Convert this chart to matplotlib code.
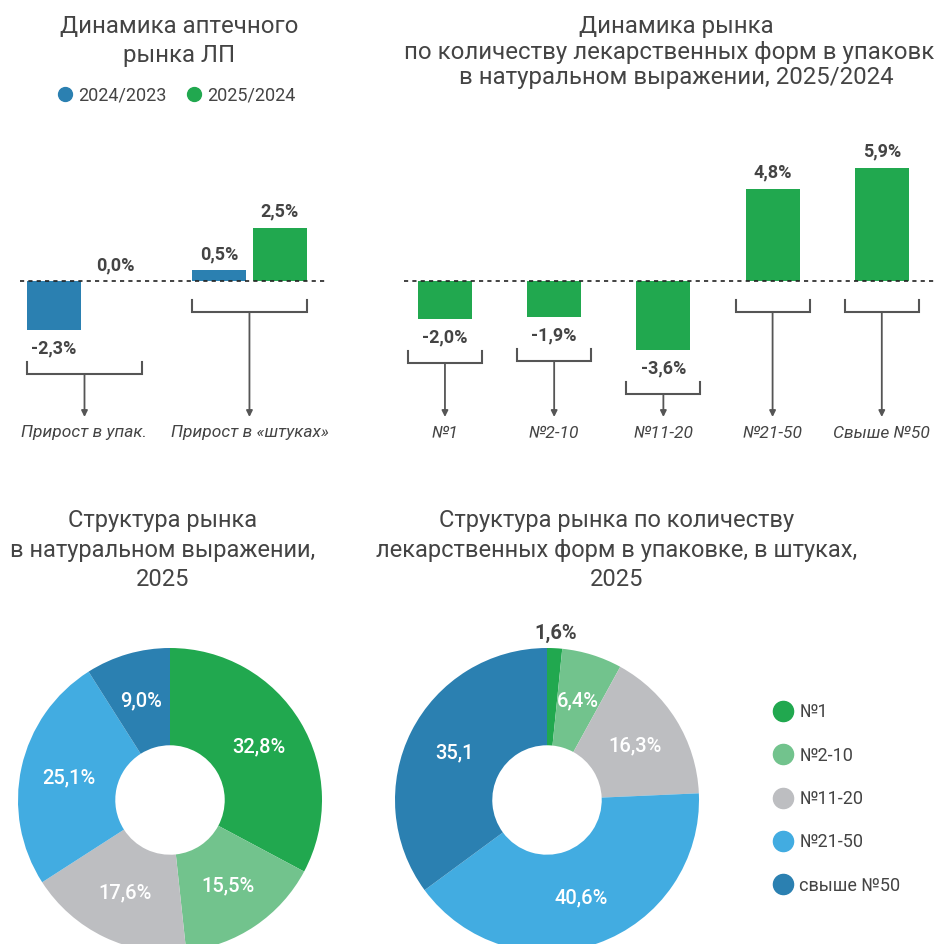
import numpy as np
import matplotlib
matplotlib.use('Agg')
import matplotlib.pyplot as plt
from matplotlib.lines import Line2D

plt.rcParams['font.family'] = ['Roboto', 'DejaVu Sans']

# ---- data
growth_cats = ['Прирост в упак.', 'Прирост в «штуках»']
series_names = ['2024/2023', '2025/2024']
growth_2024 = [-2.3, 0.5]
growth_2025 = [0.0, 2.5]

pack_cats = ['№1', '№2-10', '№11-20', '№21-50', 'Свыше №50']
pack_growth = [-2.0, -1.9, -3.6, 4.8, 5.9]

legend_names = ['№1', '№2-10', '№11-20', '№21-50', 'свыше №50']
struct_vals = [32.8, 15.5, 17.6, 25.1, 9.0]
struct_labels = ['32,8%', '15,5%', '17,6%', '25,1%', '9,0%']
pieces_vals = [1.6, 6.4, 16.3, 40.6, 35.1]
pieces_labels = ['1,6%', '6,4%', '16,3%', '40,6%', '35,1']

# ---- styles
BLUE = '#2b80b1'
GREEN = '#21a84f'
pie_colors = ['#21a84f', '#72c38d', '#bdbec1', '#42ace1', '#2b80b1']
TXT = '#444444'
LINE = '#555555'

W, H = 934, 944
fig = plt.figure(figsize=(W / 100, H / 100), dpi=100)


def px_axes(x0, y0, x1, y1):
    # pixel box with top-left origin -> figure axes
    ax = fig.add_axes([x0 / W, 1 - y1 / H, (x1 - x0) / W, (y1 - y0) / H])
    ax.axis('off')
    return ax


def fmt(v):
    return ('%.1f%%' % v).replace('.', ',')


ZERO = 281      # pixel row of the zero line
ARROW_END = 417
CAT_Y = 433


def value_labels(ax, xs, vals, K):
    for x, v in zip(xs, vals):
        if v >= 0:
            ax.text(x, v + 16 / K, fmt(v), ha='center', va='center',
                    fontsize=13, fontweight='bold', color=TXT)
        else:
            ax.text(x, v - 18 / K, fmt(v), ha='center', va='center',
                    fontsize=13, fontweight='bold', color=TXT)


def bracket(ax, x0, x1, vmin, K, label):
    if vmin < 0:
        top = vmin - 18 / K - 14 / K
    else:
        top = -19 / K
    bot = top - 12 / K
    ax.plot([x0, x0, x1, x1], [top, bot, bot, top], color=LINE, lw=1.5,
            solid_joinstyle='miter')
    xm = (x0 + x1) / 2
    yend = (ZERO - ARROW_END) / K
    ax.annotate('', xy=(xm, yend), xytext=(xm, bot),
                arrowprops=dict(arrowstyle='-|>', color=LINE, lw=1.3,
                                mutation_scale=9, shrinkA=0, shrinkB=0))
    ax.text(xm, (ZERO - CAT_Y) / K, label, ha='center', va='center',
            fontsize=12.5, fontstyle='italic', color=TXT)


# ---- top-left: growth of the pharmacy market
K1 = 21.3
ax1 = px_axes(20, 110, 325, 450)
ax1.set_xlim(-0.391, 1.458)
ax1.set_ylim(-(450 - ZERO) / K1, (ZERO - 110) / K1)
x = np.arange(len(growth_cats))
off, w = 0.185, 0.327
ax1.bar(x - off, growth_2024, w, color=BLUE, linewidth=0)
ax1.bar(x + off, growth_2025, w, color=GREEN, linewidth=0)
ax1.axhline(0, color='#222222', lw=1.2, ls=(0, (2.5, 2.5)))
value_labels(ax1, x - off, growth_2024, K1)
value_labels(ax1, x + off, growth_2025, K1)
for i, cat in enumerate(growth_cats):
    vmin = min(growth_2024[i], growth_2025[i])
    bracket(ax1, x[i] - off - w / 2, x[i] + off + w / 2, vmin, K1, cat)

fig.text(179 / W, 1 - 41 / H, 'Динамика аптечного\nрынка ЛП', ha='center',
         va='center', fontsize=17.3, color=TXT, linespacing=1.3)
handles = [Line2D([], [], ls='none', marker='o', markersize=10, color=c)
           for c in (BLUE, GREEN)]
fig.legend(handles, series_names, loc='center', ncol=2, frameon=False,
           bbox_to_anchor=(175 / W, 1 - 95 / H), fontsize=13,
           handletextpad=0.1, columnspacing=0.95, handlelength=1.2,
           labelcolor=TXT)

# ---- top-right: growth by pack size
K2 = 19.2
ax2 = px_axes(404, 110, 934, 450)
ax2.set_xlim(-0.375, 4.478)
ax2.set_ylim(-(450 - ZERO) / K2, (ZERO - 110) / K2)
x2 = np.arange(len(pack_cats))
w2 = 0.495
ax2.bar(x2, pack_growth, w2, color=GREEN, linewidth=0)
ax2.axhline(0, color='#222222', lw=1.2, ls=(0, (2.5, 2.5)))
value_labels(ax2, x2, pack_growth, K2)
pad = 10 / 109.2
for i, cat in enumerate(pack_cats):
    bracket(ax2, x2[i] - w2 / 2 - pad, x2[i] + w2 / 2 + pad,
            pack_growth[i], K2, cat)

fig.text(676 / W, 1 - 52 / H,
         'Динамика рынка\nпо количеству лекарственных форм в упаковке\n'
         'в натуральном выражении, 2025/2024',
         ha='center', va='center', fontsize=17.3, color=TXT, linespacing=1.12)

# ---- bottom: market structure donuts
fig.text(163 / W, 1 - 550 / H, 'Структура рынка\nв натуральном выражении,\n2025',
         ha='center', va='center', fontsize=17, color=TXT, linespacing=1.36)
fig.text(617 / W, 1 - 550 / H,
         'Структура рынка по количеству\nлекарственных форм в упаковке, в штуках,\n2025',
         ha='center', va='center', fontsize=17, color=TXT, linespacing=1.36)

R = 152


def donut(cx, cy, vals, labels):
    ax = px_axes(cx - 160, cy - 160, cx + 160, cy + 160)
    wedges, texts = ax.pie(vals, colors=pie_colors, startangle=90,
                           counterclock=False, radius=1,
                           wedgeprops=dict(width=0.64, linewidth=0))
    ax.set_xlim(-160 / R, 160 / R)
    ax.set_ylim(-160 / R, 160 / R)
    for wd, v, lab in zip(wedges, vals, labels):
        ang = np.deg2rad((wd.theta1 + wd.theta2) / 2)
        if v < 3:
            r, col = 1.1, TXT
        else:
            r, col = 0.68, 'white'
        ax.text(r * np.cos(ang), r * np.sin(ang), lab, ha='center',
                va='center', fontsize=14.5, color=col,
                fontweight='bold' if v < 3 else 'medium')
    return ax


donut(170, 800, struct_vals, struct_labels)
donut(547, 800, pieces_vals, pieces_labels)

handles = [Line2D([], [], ls='none', marker='o', markersize=14.5, color=c)
           for c in pie_colors]
fig.legend(handles, legend_names, loc='center left', frameon=False,
           bbox_to_anchor=(756 / W, 1 - 799 / H), fontsize=13,
           handletextpad=0.3, handlelength=1.2, labelspacing=1.4,
           labelcolor=TXT)

fig.savefig('out.png', dpi=100)
